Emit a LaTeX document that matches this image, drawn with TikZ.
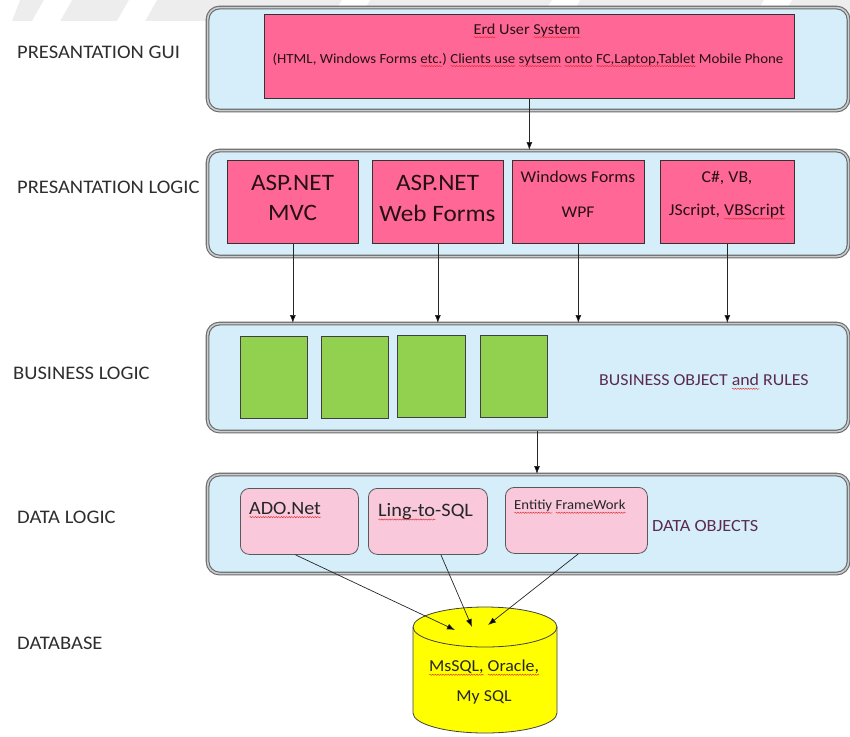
\documentclass[tikz,border=0pt]{standalone}
\usepackage{fontspec}
\setmainfont[FakeStretch=1.07]{Carlito}
\usetikzlibrary{arrows.meta,calc,decorations.pathmorphing}
\definecolor{panelfill}{HTML}{D5EEF9}
\definecolor{paneldraw}{HTML}{6A6A6A}
\definecolor{panelmid}{HTML}{C9CDD0}
\definecolor{hotpink}{HTML}{FF6796}
\definecolor{leaf}{HTML}{92D050}
\definecolor{softpink}{HTML}{F9C8DB}
\definecolor{dbyellow}{HTML}{FFFF00}
\definecolor{labelgray}{HTML}{2E2E2E}
\definecolor{plum}{HTML}{5B2B50}
\definecolor{wmgray}{HTML}{EDEDED}
\definecolor{spellred}{HTML}{E03030}
\newsavebox\splbox
\newcommand\spl[1]{\sbox\splbox{#1}\rlap{\tikz[baseline=0pt]\draw[spellred,line width=0.45pt,decorate,decoration={snake,amplitude=0.6pt,segment length=2.6pt}] (0pt,-2.8pt) -- (\wd\splbox,-2.8pt);}\usebox\splbox}
\tikzset{
  panel/.style={draw=paneldraw, double=panelmid, double distance=1.6pt, line width=1.1pt,
    fill=panelfill, rounded corners=12pt, anchor=north west, inner sep=0pt},
  pinkbox/.style={draw=black!80, fill=hotpink, line width=0.7pt, anchor=north west, inner sep=0pt},
  greenbox/.style={draw=black!75, fill=leaf, line width=0.7pt, anchor=north west, inner sep=0pt},
  dobox/.style={draw=black!65, fill=softpink, line width=0.8pt, rounded corners=9pt, anchor=north west, inner sep=0pt},
  layerlabel/.style={anchor=west, font=\fontsize{19.2}{22}\selectfont, text=labelgray, inner sep=0pt},
  boxtext/.style={text=black!85!hotpink, inner sep=0pt, align=center},
  arr/.style={-{Latex[length=8pt,width=6pt]}, line width=0.7pt, draw=black!85},
}
\begin{document}
\begin{tikzpicture}[x=1pt,y=-1pt]
\useasboundingbox (0,0) rectangle (850,736);
% faint watermark band at the top
\fill[wmgray] (0,0) rectangle (850,21);
\foreach \g in {30,115,328,538,750}{
  \fill[white] (\g+14,0) -- (\g+42,0) -- (\g+30,21) -- (\g+2,21) -- cycle;
}
\fill[white] (0,0) -- (20,0) -- (12,21) -- (0,21) -- cycle;

% layer labels
\node[layerlabel] (lgui)  at (17,52)  {PRESANTATION GUI};
\node[layerlabel] (llog)  at (17,187) {PRESANTATION LOGIC};
\node[layerlabel] (lbus)  at (13,373) {BUSINESS LOGIC};
\node[layerlabel] (ldat)  at (17,517) {DATA LOGIC};
\node[layerlabel] (ldb)   at (17,643) {DATABASE};

% panels
\node[panel, minimum width=641pt, minimum height=103pt] (pgui) at (207,7) {};
\node[panel, minimum width=641pt, minimum height=106pt] (plog) at (207,150) {};
\node[panel, minimum width=641pt, minimum height=108pt] (pbus) at (207,323) {};
\node[panel, minimum width=641pt, minimum height=99pt]  (pdat) at (207,474) {};

% GUI box
\node[pinkbox, minimum width=530pt, minimum height=84pt] (gui) at (264,14) {};
\node[boxtext, font=\fontsize{15.2}{18}\selectfont] (guit1) at (527,31) {\spl{Erd} User \spl{System}};
\node[boxtext, font=\fontsize{13.9}{16}\selectfont] (guit2) at (528,60) {(HTML, Windows Forms \spl{etc.}) \spl{Clients use} \spl{sytsem} \spl{onto} \spl{FC,Laptop,Tablet} Mobile Phone};

% presentation logic boxes
\node[pinkbox, minimum width=131pt, minimum height=83pt] (b1) at (227,160) {};
\node[pinkbox, minimum width=131pt, minimum height=83pt] (b2) at (372,160) {};
\node[pinkbox, minimum width=132pt, minimum height=83pt] (b3) at (512,160) {};
\node[pinkbox, minimum width=134pt, minimum height=83pt] (b4) at (660,160) {};
\node[boxtext, font=\fontsize{23.5}{26}\selectfont] (b1a) at (292.5,183) {ASP.NET};
\node[boxtext, font=\fontsize{23.5}{26}\selectfont] (b1b) at (292.5,213) {MVC};
\node[boxtext, font=\fontsize{23.5}{26}\selectfont] (b2a) at (437.5,183) {ASP.NET};
\node[boxtext, font=\fontsize{23.5}{26}\selectfont] (b2b) at (437.5,213) {Web Forms};
\node[boxtext, font=\fontsize{16.4}{19}\selectfont] (b3a) at (578,177) {Windows Forms};
\node[boxtext, font=\fontsize{16.4}{19}\selectfont] (b3b) at (578,212) {WPF};
\node[boxtext, font=\fontsize{16.6}{19}\selectfont] (b4a) at (727,178) {C\#, VB,};
\node[boxtext, font=\fontsize{16.6}{19}\selectfont] (b4b) at (727,212) {JScript, \spl{VBScript}};

% business boxes
\node[greenbox, minimum width=67pt, minimum height=82pt] (g1) at (240,336) {};
\node[greenbox, minimum width=67pt, minimum height=82pt] (g2) at (321,336) {};
\node[greenbox, minimum width=68pt, minimum height=82pt] (g3) at (397,335) {};
\node[greenbox, minimum width=67pt, minimum height=82pt] (g4) at (480,335) {};
\node[text=plum, anchor=west, inner sep=0pt, font=\fontsize{16.7}{19}\selectfont] (bor) at (599,382) {BUSINESS OBJECT \spl{and} RULES};

% data objects
\node[dobox, minimum width=118pt, minimum height=66pt] (ado) at (240,488) {};
\node[dobox, minimum width=119pt, minimum height=66pt] (linq) at (368,488) {};
\node[dobox, minimum width=142pt, minimum height=66pt] (ent) at (505,487) {};
\node[anchor=west, inner sep=0pt, text=black!85, font=\fontsize{18.8}{21}\selectfont] (adot) at (249,510) {\spl{ADO.Net}};
\node[anchor=west, inner sep=0pt, text=black!85, font=\fontsize{19}{21}\selectfont] (linqt) at (378,512) {\spl{Ling-to}-SQL};
\node[anchor=west, inner sep=0pt, text=black!85, font=\fontsize{13.8}{16}\selectfont] (entt) at (514,507) {\spl{Entitiy} \spl{FrameWork}};
\node[text=plum, anchor=west, inner sep=0pt, font=\fontsize{17.1}{20}\selectfont] (dobj) at (652,526) {DATA OBJECTS};

% database cylinder
\filldraw[fill=dbyellow, draw=black!75, line width=0.8pt]
  (413,627) -- (413,713) arc[start angle=180, end angle=360, x radius=72pt, y radius=20pt]
  -- (557,627) arc[start angle=0, end angle=180, x radius=72pt, y radius=20pt] -- cycle;
\draw[black!75, line width=0.8pt] (413,627) arc[start angle=180, end angle=360, x radius=72pt, y radius=20pt];
\node[text=black!85, inner sep=0pt, font=\fontsize{16.7}{19}\selectfont] (db1) at (484,668) {\spl{MsSQL,} \spl{Oracle,}};
\node[text=black!85, inner sep=0pt, font=\fontsize{16.7}{19}\selectfont] (db2) at (484,697) {My SQL};
\coordinate (dbA) at (455,630);
\coordinate (dbB) at (472,627);
\coordinate (dbC) at (488,625);

% connectors
\draw[arr] (gui.south) -- (gui.south |- plog.north);
\draw[arr] (b1.south) -- (b1.south |- pbus.north);
\draw[arr] (b2.south) -- (b2.south |- pbus.north);
\draw[arr] (b3.south) -- (b3.south |- pbus.north);
\draw[arr] (b4.south) -- (b4.south |- pbus.north);
\coordinate (bdrop) at (537,431);
\draw[arr] (bdrop) -- (bdrop |- pdat.north);
\draw[arr] ($(ado.south)+(-4,0)$) -- (dbA);
\draw[arr] ($(linq.south)+(13,0)$) -- (dbB);
\draw[arr] ($(ent.south)+(2,0)$) -- (dbC);
\end{tikzpicture}
\end{document}
